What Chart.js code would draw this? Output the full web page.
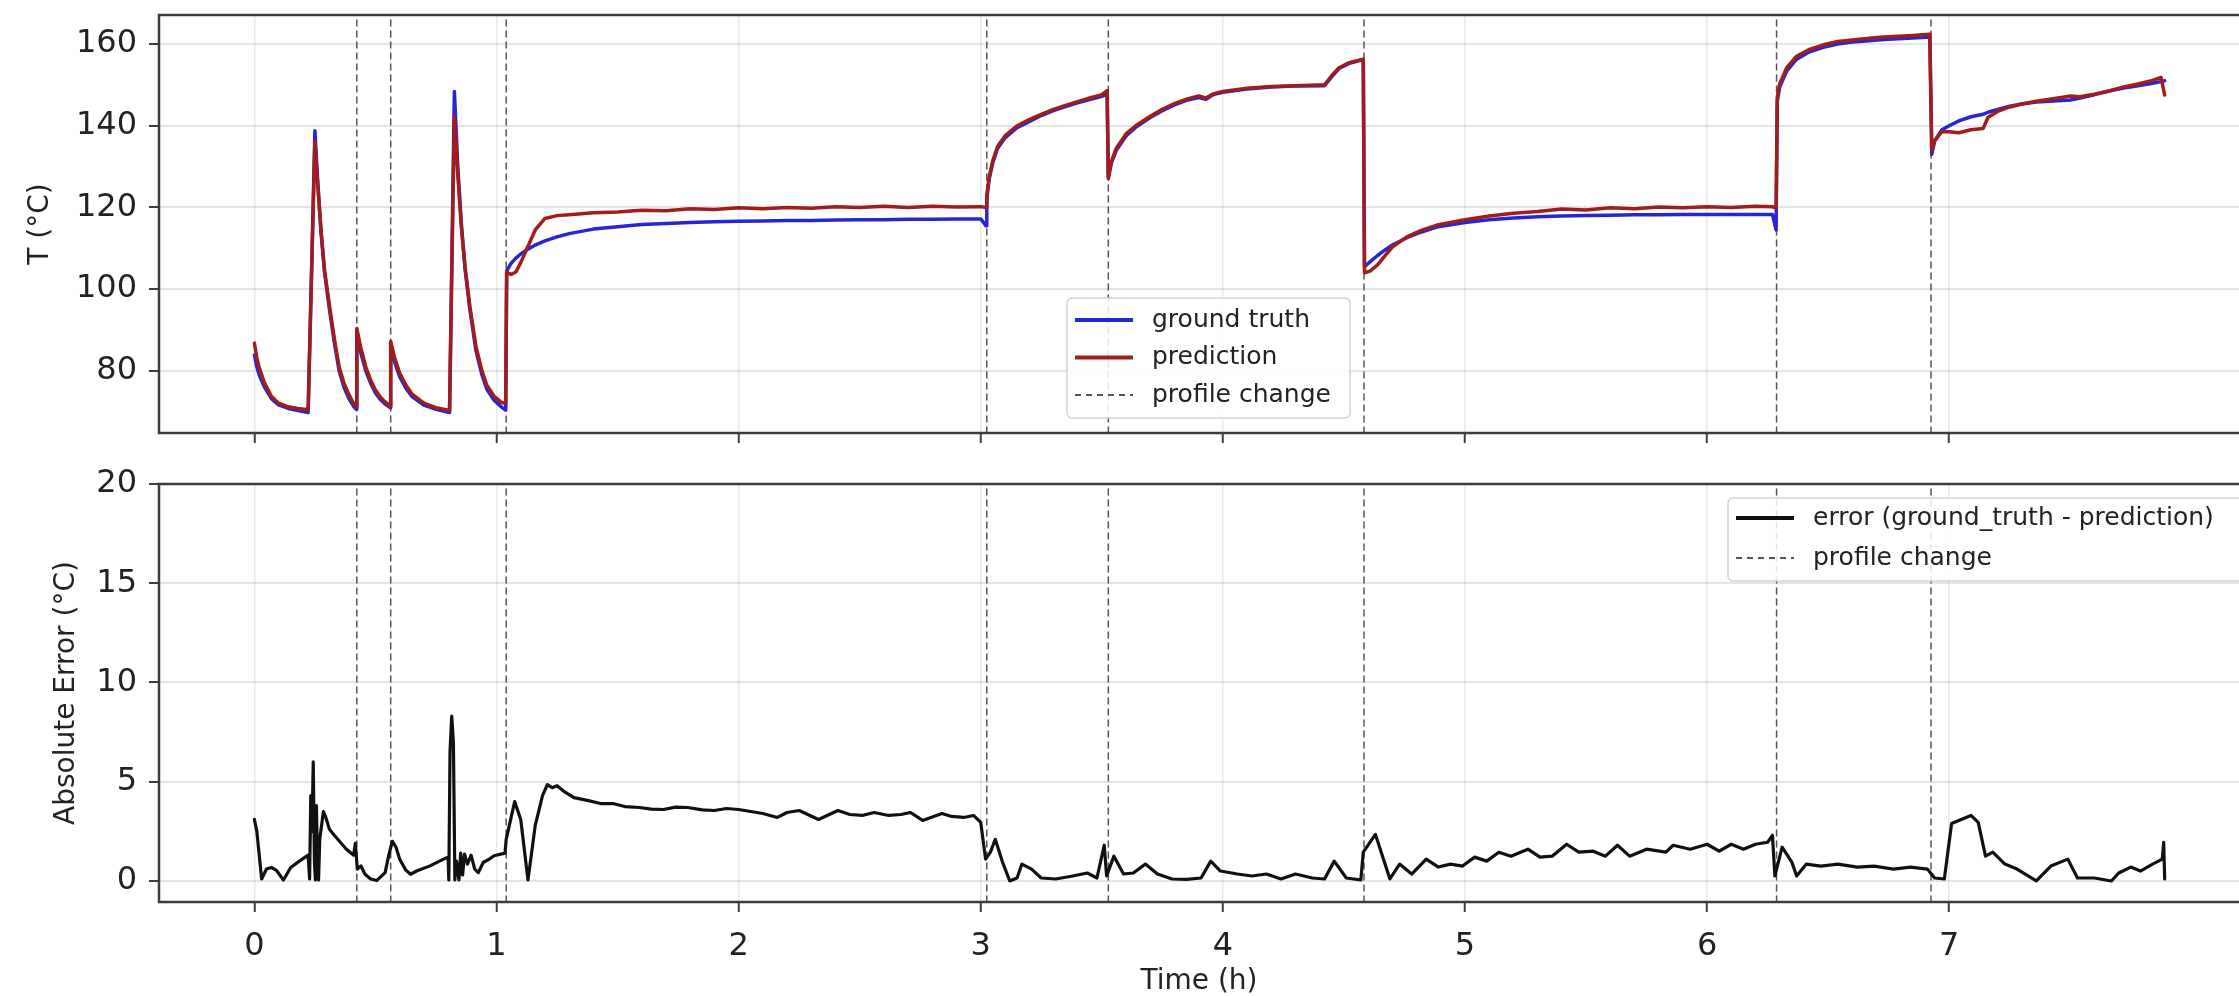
<!DOCTYPE html>
<html>
<head>
<meta charset="utf-8">
<title>Temperature prediction</title>
<script src="https://cdn.jsdelivr.net/npm/chart.js@4.4.1/dist/chart.umd.min.js"></script>
<style>
  html, body { margin: 0; padding: 0; background: #fff; }
  #wrap { position: relative; width: 2239px; height: 996px; overflow: hidden; }
  #tempChart { position: absolute; left: 0; top: 0; }
  #errorChart { position: absolute; left: 0; top: 460px; }
</style>
</head>
<body>
<div id="wrap">
  <canvas id="tempChart" width="2239" height="460"></canvas>
  <canvas id="errorChart" width="2239" height="536"></canvas>
</div>
<script>
// time axis of the upper panel (hours) and the two temperature traces
const hours = [
  0.000, 0.010, 0.020, 0.040, 0.070, 0.100, 0.140, 0.180, 0.222, 0.250, 0.260, 0.275, 0.290, 0.310, 0.330, 0.350, 0.370, 0.390, 0.410, 0.421,
  0.423, 0.440, 0.460, 0.480, 0.500, 0.520, 0.540, 0.561,
  0.563, 0.580, 0.600, 0.625, 0.650, 0.700, 0.750, 0.806, 0.826, 0.840, 0.855, 0.870, 0.890, 0.915, 0.940, 0.960, 0.990, 1.020, 1.038,
  1.042, 1.060, 1.080, 1.100, 1.130, 1.160, 1.200, 1.250, 1.300, 1.400, 1.500, 1.600, 1.700, 1.800, 1.900, 2.000, 2.100, 2.200, 2.300, 2.400, 2.500, 2.600, 2.700, 2.800, 2.900, 3.000, 3.022,
  3.025, 3.035, 3.050, 3.070, 3.100, 3.150, 3.200, 3.250, 3.300, 3.350, 3.400, 3.450, 3.500, 3.522,
  3.527, 3.540, 3.560, 3.600, 3.640, 3.700, 3.750, 3.800, 3.850, 3.900, 3.930, 3.960, 4.000, 4.100, 4.200, 4.300, 4.420, 4.450, 4.480, 4.520, 4.560, 4.580,
  4.585, 4.610, 4.640, 4.670, 4.700, 4.760, 4.820, 4.890, 5.000, 5.100, 5.200, 5.300, 5.400, 5.500, 5.600, 5.700, 5.800, 5.900, 6.000, 6.100, 6.200, 6.270, 6.285,
  6.290, 6.300, 6.330, 6.370, 6.420, 6.480, 6.540, 6.600, 6.670, 6.730, 6.790, 6.850, 6.920,
  6.928, 6.940, 6.970, 7.000, 7.040, 7.090, 7.140, 7.160, 7.200, 7.250, 7.300, 7.360, 7.450, 7.500, 7.540, 7.600, 7.660, 7.720, 7.780, 7.840, 7.875, 7.890
];
const groundTruth = [
  83.9, 81.0, 79.0, 76.2, 73.2, 71.7, 70.8, 70.3, 69.8, 138.8, 128.0, 114.0, 104.0, 95.0, 87.0, 80.0, 76.0, 73.3, 71.3, 70.6,
  89.5, 84.3, 80.0, 77.0, 74.6, 73.0, 71.9, 71.0,
  86.5, 82.0, 78.6, 75.8, 73.8, 71.6, 70.6, 69.8, 148.4, 130.0, 116.0, 105.0, 95.0, 85.0, 79.0, 75.5, 72.8, 71.2, 70.4,
  104.5, 106.3, 107.6, 108.6, 109.8, 110.8, 111.8, 112.8, 113.6, 114.7, 115.3, 115.8, 116.1, 116.3, 116.5, 116.6, 116.7, 116.8, 116.8, 116.9, 117.0, 117.0, 117.1, 117.1, 117.2, 117.2, 115.5,
  122.0, 127.0, 131.0, 134.5, 137.0, 139.5, 141.0, 142.5, 143.7, 144.7, 145.6, 146.4, 147.2, 147.8,
  127.5, 131.0, 134.0, 137.5, 139.6, 142.0, 143.7, 145.1, 146.2, 146.9, 146.5, 147.6, 148.2, 149.0, 149.5, 149.7, 149.8, 152.0, 154.0, 155.2, 155.9, 156.2,
  105.5, 106.8, 108.3, 109.6, 110.8, 112.6, 114.0, 115.3, 116.3, 117.0, 117.4, 117.7, 117.9, 118.0, 118.1, 118.2, 118.2, 118.3, 118.3, 118.3, 118.3, 118.3, 114.5,
  146.0, 149.5, 153.5, 156.3, 158.0, 159.2, 160.0, 160.5, 160.8, 161.1, 161.3, 161.5, 161.7,
  133.0, 136.3, 139.0, 140.0, 141.2, 142.2, 142.8, 143.3, 144.0, 144.8, 145.3, 145.8, 146.1, 146.3, 146.8, 147.6, 148.5, 149.2, 149.8, 150.4, 150.8, 151.0
];
const prediction = [
  86.8, 83.2, 80.8, 77.3, 73.8, 72.1, 71.2, 70.8, 70.5, 136.2, 127.0, 114.5, 104.5, 96.0, 88.0, 81.0, 77.0, 74.3, 72.0, 71.2,
  90.4, 85.5, 81.0, 77.8, 75.3, 73.6, 72.4, 71.4,
  87.2, 83.0, 79.5, 76.6, 74.4, 72.1, 71.0, 70.3, 142.3, 128.0, 115.0, 105.5, 95.8, 86.0, 80.0, 76.5, 73.8, 72.3, 72.0,
  104.2, 103.6, 104.2, 106.5, 110.5, 114.5, 117.3, 118.0, 118.2, 118.7, 118.9, 119.3, 119.2, 119.7, 119.5, 119.9, 119.7, 120.0, 119.8, 120.2, 120.0, 120.3, 120.0, 120.3, 120.1, 120.2, 120.0,
  123.0, 127.5, 131.5, 135.0, 137.5, 140.0, 141.5, 142.8, 144.0, 145.0, 145.9, 146.8, 147.6, 148.6,
  127.0, 131.3, 134.5, 138.0, 140.0, 142.3, 144.0, 145.4, 146.5, 147.3, 146.8, 147.8, 148.4, 149.2, 149.6, 149.8, 150.0, 152.3, 154.2, 155.4, 156.0, 156.3,
  104.0, 104.5, 106.0, 108.2, 110.3, 112.8, 114.4, 115.8, 117.0, 117.9, 118.6, 119.0, 119.6, 119.4, 119.9, 119.7, 120.1, 119.9, 120.2, 120.0, 120.3, 120.2, 119.8,
  147.0, 150.3, 154.3, 157.0, 158.6, 159.8, 160.6, 161.0, 161.4, 161.7, 161.9, 162.1, 162.4,
  134.0, 136.3, 138.6, 138.5, 138.3, 139.0, 139.3, 142.0, 143.5, 144.6, 145.3, 146.0, 146.8, 147.3, 147.1, 147.7, 148.5, 149.5, 150.2, 151.1, 151.8, 147.5
];

// lower panel: absolute error trace
const errorHours = [
  0.000, 0.010, 0.030, 0.050, 0.070, 0.090, 0.120, 0.150, 0.180, 0.210, 0.222, 0.228, 0.233, 0.238, 0.243, 0.248, 0.252, 0.256, 0.260, 0.265,
  0.270, 0.285, 0.295, 0.310, 0.330, 0.355, 0.380, 0.410, 0.417, 0.425, 0.440, 0.457, 0.480, 0.505, 0.540, 0.555, 0.570, 0.585, 0.600, 0.625,
  0.645, 0.670, 0.725, 0.790, 0.800, 0.803, 0.808, 0.815, 0.822, 0.828, 0.835, 0.845, 0.852, 0.860, 0.868, 0.880, 0.895, 0.910, 0.925, 0.945,
  0.970, 0.990, 1.035, 1.040, 1.075, 1.100, 1.130, 1.160, 1.190, 1.210, 1.230, 1.250, 1.280, 1.320, 1.380, 1.430, 1.480, 1.530, 1.590, 1.640,
  1.690, 1.740, 1.790, 1.850, 1.900, 1.950, 2.000, 2.050, 2.100, 2.160, 2.200, 2.250, 2.330, 2.410, 2.460, 2.510, 2.560, 2.620, 2.670, 2.710,
  2.760, 2.840, 2.880, 2.930, 2.970, 3.000, 3.020, 3.040, 3.060, 3.090, 3.120, 3.150, 3.170, 3.210, 3.250, 3.310, 3.380, 3.440, 3.480, 3.510,
  3.520, 3.550, 3.590, 3.630, 3.680, 3.730, 3.790, 3.850, 3.910, 3.950, 3.990, 4.060, 4.120, 4.180, 4.240, 4.300, 4.370, 4.420, 4.460, 4.510,
  4.570, 4.580, 4.630, 4.690, 4.730, 4.780, 4.840, 4.890, 4.940, 4.990, 5.040, 5.090, 5.140, 5.190, 5.260, 5.310, 5.360, 5.420, 5.470, 5.530,
  5.580, 5.630, 5.680, 5.750, 5.830, 5.860, 5.930, 6.000, 6.050, 6.100, 6.150, 6.200, 6.250, 6.270, 6.280, 6.310, 6.350, 6.370, 6.410, 6.470,
  6.540, 6.620, 6.690, 6.770, 6.840, 6.910, 6.940, 6.980, 7.010, 7.050, 7.090, 7.120, 7.150, 7.180, 7.230, 7.280, 7.360, 7.420, 7.490, 7.530,
  7.600, 7.670, 7.700, 7.750, 7.790, 7.840, 7.880, 7.886, 7.890
];
const absoluteError = [
  3.10, 2.50, 0.10, 0.60, 0.68, 0.55, 0.05, 0.68, 0.95, 1.20, 1.30, 0.10, 4.30, 2.50, 6.00, 1.00, 0.05, 3.80, 1.50, 0.05,
  2.10, 3.50, 3.20, 2.60, 2.30, 1.95, 1.60, 1.30, 1.90, 0.60, 0.76, 0.34, 0.10, 0.02, 0.42, 1.30, 2.00, 1.70, 1.10, 0.55,
  0.34, 0.50, 0.76, 1.15, 1.20, 0.05, 6.50, 8.30, 7.00, 0.05, 1.00, 0.05, 1.40, 0.30, 1.35, 0.85, 1.30, 0.60, 0.42, 0.93,
  1.10, 1.27, 1.40, 2.10, 4.00, 3.10, 0.05, 2.80, 4.30, 4.85, 4.70, 4.80, 4.50, 4.20, 4.05, 3.90, 3.90, 3.75, 3.70, 3.62,
  3.60, 3.72, 3.70, 3.58, 3.55, 3.65, 3.60, 3.50, 3.40, 3.20, 3.45, 3.55, 3.10, 3.55, 3.35, 3.30, 3.45, 3.30, 3.35, 3.45,
  3.05, 3.40, 3.25, 3.20, 3.30, 2.95, 1.10, 1.45, 2.10, 0.95, 0.00, 0.15, 0.85, 0.60, 0.15, 0.10, 0.25, 0.40, 0.15, 1.80,
  0.25, 1.25, 0.35, 0.40, 0.85, 0.35, 0.10, 0.08, 0.15, 1.00, 0.50, 0.35, 0.25, 0.35, 0.10, 0.35, 0.15, 0.10, 1.00, 0.15,
  0.05, 1.45, 2.35, 0.10, 0.85, 0.35, 1.10, 0.70, 0.85, 0.75, 1.20, 1.00, 1.45, 1.25, 1.60, 1.20, 1.25, 1.85, 1.45, 1.50,
  1.25, 1.80, 1.25, 1.60, 1.45, 1.80, 1.60, 1.85, 1.50, 1.85, 1.60, 1.85, 1.95, 2.30, 0.25, 1.70, 0.95, 0.25, 0.85, 0.75,
  0.85, 0.70, 0.75, 0.60, 0.70, 0.60, 0.15, 0.10, 2.90, 3.10, 3.30, 2.95, 1.25, 1.45, 0.85, 0.60, 0.00, 0.75, 1.10, 0.15,
  0.15, 0.00, 0.40, 0.70, 0.50, 0.85, 1.10, 1.95, 0.10
];

// hours at which the heating profile changes
const profileChanges = [0.423, 0.563, 1.04, 3.025, 3.527, 4.583, 6.287, 6.925];

const hourTicks = [0, 1, 2, 3, 4, 5, 6, 7];
const tempTicks = [80, 100, 120, 140, 160];
const errorTicks = [0, 5, 10, 15, 20];
const hourRange = [-0.394, 8.197];
const tempRange = [64.8, 167.1];
const errorRange = [-1.06, 20];

const FONT = 'DejaVu Sans';
const AXIS_DARK = '#3c3c3c';

function toPoints(xs, ys) {
    return xs.map((x, i) => ({ x: x, y: ys[i] }));
}

// vertical dashed lines, one segment per profile change, broken by null points
function profilePoints(range) {
    const pts = [];
    profileChanges.forEach(t => {
        pts.push({ x: t, y: range[0] }, { x: t, y: range[1] }, { x: t, y: null });
    });
    return pts;
}

function profileDataset(range) {
    return {
        label: 'profile change',
        data: profilePoints(range),
        borderColor: '#555555',
        borderWidth: 1.5,
        borderDash: [6, 5],
        pointRadius: 0,
        spanGaps: false,
        order: 3
    };
}

// axes frame (top, left, bottom spines)
const framePlugin = {
    id: 'frame',
    afterDatasetsDraw(chart) {
        const { ctx, chartArea: a } = chart;
        ctx.save();
        ctx.strokeStyle = AXIS_DARK;
        ctx.lineWidth = 2.5;
        ctx.beginPath();
        ctx.moveTo(a.right + 5, a.top);
        ctx.lineTo(a.left, a.top);
        ctx.lineTo(a.left, a.bottom);
        ctx.lineTo(a.right + 5, a.bottom);
        ctx.stroke();
        ctx.restore();
    }
};

// matplotlib-like legend box drawn inside the plot area
const boxLegendPlugin = {
    id: 'boxLegend',
    afterDatasetsDraw(chart, args, opts) {
        const { ctx, chartArea } = chart;
        const x = chartArea.left + opts.left;
        const y = chartArea.top + opts.top;
        ctx.save();
        ctx.fillStyle = 'rgba(255,255,255,0.85)';
        ctx.strokeStyle = '#d2d2d2';
        ctx.lineWidth = 1.5;
        ctx.beginPath();
        ctx.roundRect(x, y, opts.width, opts.height, 5);
        ctx.fill();
        ctx.stroke();
        ctx.font = opts.fontSize + 'px "' + FONT + '"';
        ctx.textBaseline = 'middle';
        opts.items.forEach((idx, i) => {
            const ds = chart.data.datasets[idx];
            const ry = y + opts.firstRow + i * opts.rowGap;
            ctx.strokeStyle = ds.borderColor;
            ctx.lineWidth = ds.borderDash ? 2 : 4;
            ctx.setLineDash(ds.borderDash || []);
            ctx.beginPath();
            ctx.moveTo(x + 8, ry);
            ctx.lineTo(x + 66, ry);
            ctx.stroke();
            ctx.setLineDash([]);
            ctx.fillStyle = '#222';
            ctx.fillText(ds.label, x + 85, ry);
        });
        ctx.restore();
    }
};

function buildOptions(cfg) {
    return {
        responsive: false,
        animation: false,
        events: [],
        layout: { padding: { top: cfg.padTop, left: 0, right: 0, bottom: 0 } },
        plugins: {
            legend: { display: false },
            tooltip: { enabled: false },
            boxLegend: cfg.legend
        },
        elements: { line: { tension: 0, borderJoinStyle: 'round', borderCapStyle: 'round' } },
        scales: {
            x: {
                type: 'linear',
                min: hourRange[0],
                max: hourRange[1],
                afterBuildTicks: s => { s.ticks = hourTicks.map(v => ({ value: v })); },
                afterFit: s => { s.height = cfg.xHeight; s.paddingLeft = 0; s.paddingRight = 0; },
                border: { display: false },
                grid: { color: 'rgba(0,0,0,0.09)', lineWidth: 1.5, tickColor: AXIS_DARK, tickWidth: 2, tickLength: 10 },
                ticks: {
                    display: cfg.showX, autoSkip: false, maxRotation: 0, padding: 15, color: '#222',
                    font: { family: FONT, size: 32 }
                },
                title: {
                    display: cfg.showX, text: 'Time (h)', color: '#222',
                    font: { family: FONT, size: 28, lineHeight: 1 },
                    padding: { top: 0, bottom: 0 }
                }
            },
            y: {
                type: 'linear',
                min: cfg.yRange[0],
                max: cfg.yRange[1],
                afterBuildTicks: s => { s.ticks = cfg.yTicks.map(v => ({ value: v })); },
                afterFit: s => { s.width = 159; s.paddingTop = 0; s.paddingBottom = 0; },
                border: { display: false },
                grid: { color: 'rgba(0,0,0,0.1)', lineWidth: 2, tickColor: AXIS_DARK, tickWidth: 2, tickLength: 10 },
                ticks: { padding: 12, color: '#222', font: { family: FONT, size: 32 } },
                title: {
                    display: true, text: cfg.yTitle, color: '#222',
                    font: { family: FONT, size: 28, lineHeight: 1 },
                    padding: { top: cfg.yTitleCenter - 14, bottom: 0 }
                }
            }
        }
    };
}

new Chart(document.getElementById('tempChart'), {
    type: 'line',
    data: {
        datasets: [
            {
                label: 'ground truth',
                data: toPoints(hours, groundTruth),
                borderColor: '#2626d4',
                borderWidth: 3.5,
                pointRadius: 0,
                order: 2
            },
            {
                label: 'prediction',
                data: toPoints(hours, prediction),
                borderColor: '#a21c1c',
                borderWidth: 3.5,
                pointRadius: 0,
                order: 1
            },
            profileDataset(tempRange)
        ]
    },
    options: buildOptions({
        padTop: 15, xHeight: 27, showX: false,
        yRange: tempRange, yTicks: tempTicks, yTitle: 'T (°C)', yTitleCenter: 41,
        legend: { left: 908, top: 283, width: 283, height: 120, firstRow: 22, rowGap: 37.5, fontSize: 25, items: [0, 1, 2] }
    }),
    plugins: [framePlugin, boxLegendPlugin]
});

new Chart(document.getElementById('errorChart'), {
    type: 'line',
    data: {
        datasets: [
            {
                label: 'error (ground_truth - prediction)',
                data: toPoints(errorHours, absoluteError),
                borderColor: '#111111',
                borderWidth: 3.2,
                pointRadius: 0,
                order: 1
            },
            profileDataset(errorRange)
        ]
    },
    options: buildOptions({
        padTop: 24, xHeight: 94, showX: true,
        yRange: errorRange, yTicks: errorTicks, yTitle: 'Absolute Error (°C)', yTitleCenter: 67,
        legend: { left: 1569, top: 14, width: 540, height: 83, firstRow: 20, rowGap: 40, fontSize: 25, items: [0, 1] }
    }),
    plugins: [framePlugin, boxLegendPlugin]
});
</script>
</body>
</html>
